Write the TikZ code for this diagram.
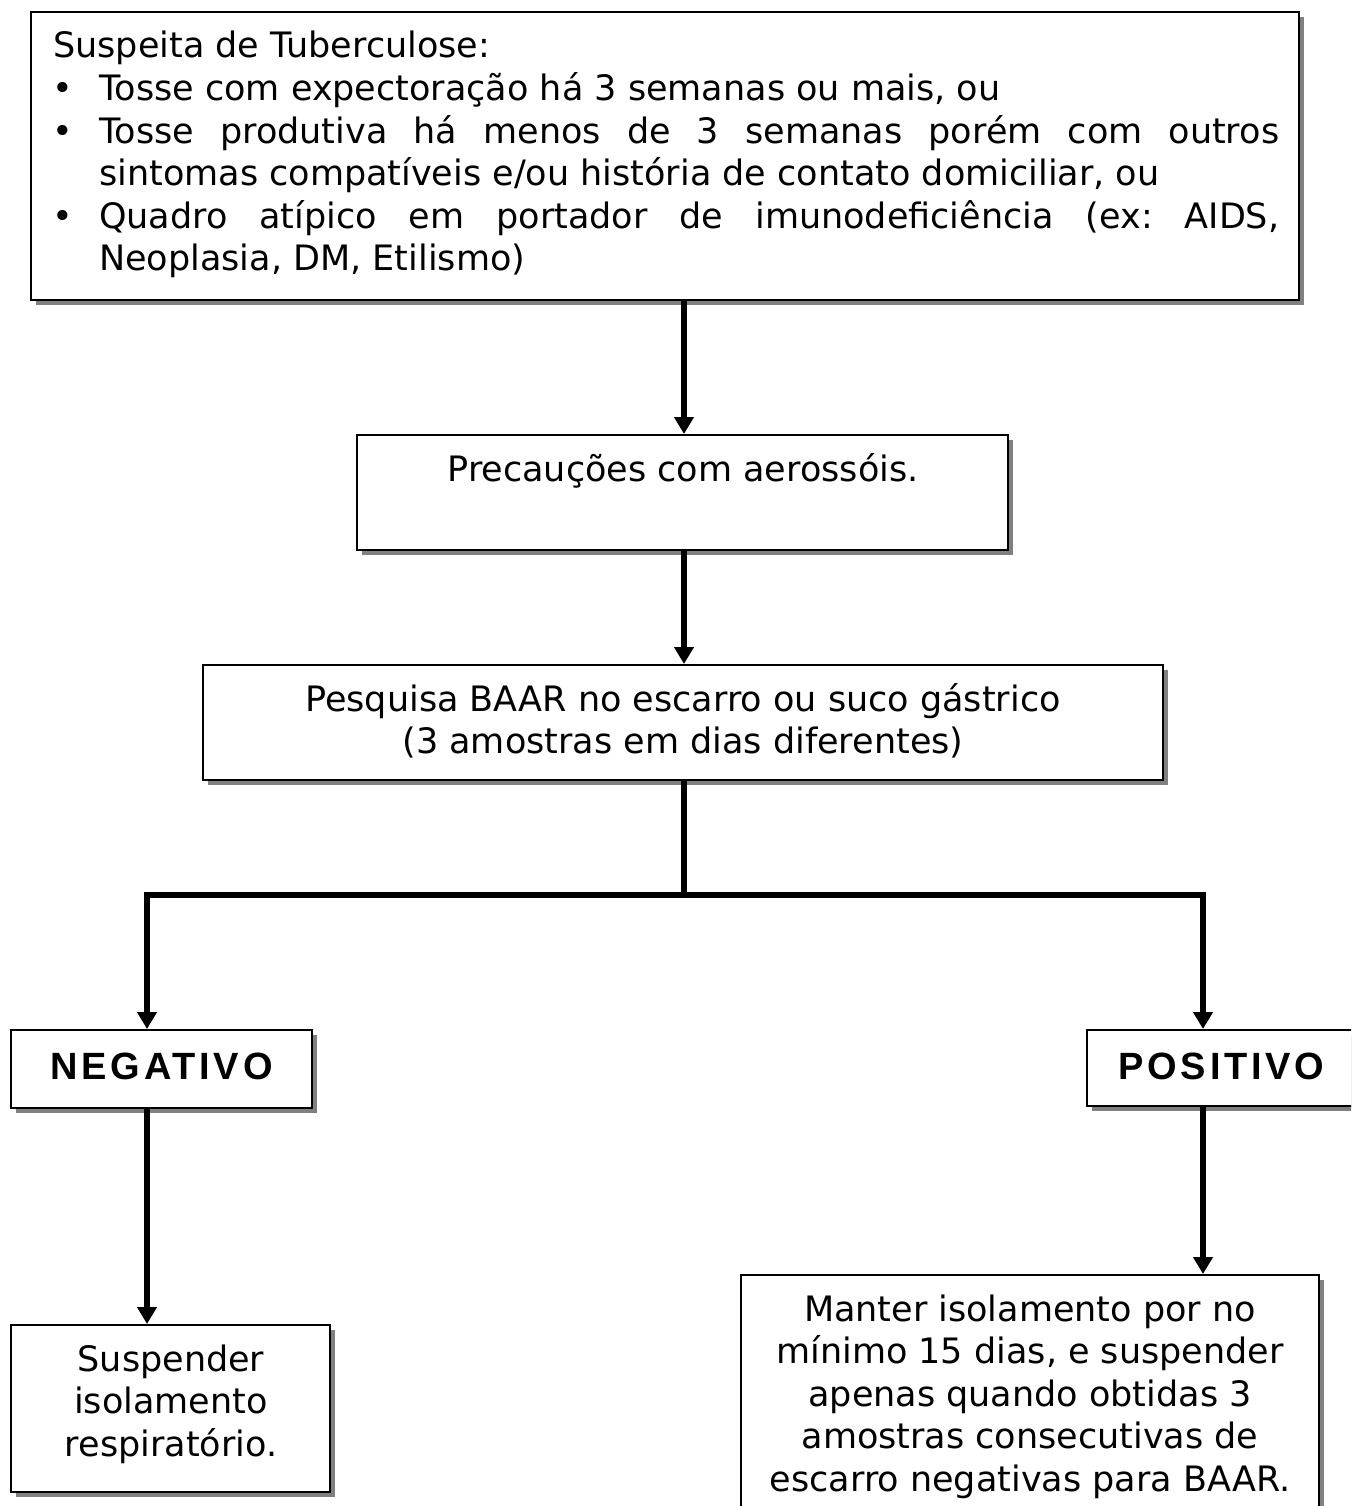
\documentclass[tikz,border=0pt]{standalone}
\usepackage{fontspec}
\setmainfont{DejaVu Sans}
\newfontfamily\headfont[LetterSpace=10]{Liberation Sans}
\usetikzlibrary{arrows.meta,shadows}
\newcommand\bodysize{\fontsize{35pt}{42.6pt}\selectfont}
\newcommand\cblock[2]{\begin{minipage}[t]{#1}\centering\bodysize #2\end{minipage}}
\frenchspacing
\begin{document}
\begin{tikzpicture}[x=1pt,y=-1pt,
  box/.style={draw=black, line width=2pt, fill=white, inner sep=0pt,
    drop shadow={shadow xshift=5pt, shadow yshift=-5pt, fill=black!50, opacity=1}},
  txt/.style={inner sep=0pt, anchor=base},
  head/.style={inner sep=0pt, anchor=base, font=\fontsize{38pt}{42pt}\headfont\bfseries},
  arr/.style={line width=6pt, -{Triangle[width=19pt,length=17pt]}},
  link/.style={line width=6pt}]
\useasboundingbox (0,0) rectangle (1351,1506);
\clip (0,0) rectangle (1351,1506);

% boxes
\node[box, minimum width=1268pt, minimum height=288pt] (b1) at (665,156) {};
\node[box, minimum width=651pt, minimum height=115pt] (b2) at (682.5,492.5) {};
\node[box, minimum width=960pt, minimum height=115pt] (b3) at (683,722.5) {};
\node[box, minimum width=301pt, minimum height=78pt] (neg) at (161.5,1069) {};
\node[box, minimum width=293pt, minimum height=76pt] (pos) at (1233.5,1068) {};
\node[box, minimum width=319pt, minimum height=167pt] (sus) at (170.5,1408.5) {};
\node[box, minimum width=578pt, minimum height=260pt] (man) at (1030,1405) {};

% texts
\node[inner sep=0pt, anchor=base west] (t1) at (53,58) {\begin{minipage}[t]{1240pt}\bodysize\parindent0pt
Suspeita de Tuberculose:\\
\makebox[46pt][l]{\hspace{-1pt}•}Tosse com expectoração há 3 semanas ou mais, ou\\
\makebox[46pt][l]{\hspace{-1pt}•}\makebox[1180pt][s]{Tosse produtiva há menos de 3 semanas porém com outros}\\
\hspace*{46pt}sintomas compatíveis e/ou história de contato domiciliar, ou\\
\makebox[46pt][l]{\hspace{-1pt}•}\makebox[1180pt][s]{Quadro atípico em portador de imunodeficiência (ex: AIDS,}\\
\hspace*{46pt}Neoplasia, DM, Etilismo)
\end{minipage}};
\node[txt] (t2) at (683,481) {\cblock{640pt}{Precauções com aerossóis.}};
\node[txt] (t3) at (683,711) {\cblock{950pt}{Pesquisa BAAR no escarro ou suco gástrico\\(3 amostras em dias diferentes)}};
\node[head] (tneg) at (161.5,1079) {NEGATIVO};
\node[head] (tpos) at (1221.5,1079) {POSITIVO};
\node[txt] (tsus) at (171,1371) {\cblock{310pt}{Suspender\\isolamento\\respiratório.}};
\node[txt] (tman) at (1030,1321) {\cblock{570pt}{Manter isolamento por no\\mínimo 15 dias, e suspender\\apenas quando obtidas 3\\amostras consecutivas de\\escarro negativas para BAAR.}};

% connectors
\coordinate (jc) at (684,895);
\coordinate (jl) at (147,895);
\coordinate (jr) at (1203,895);
\draw[arr] (jc |- b1.south) -- (jc |- b2.north);
\draw[arr] (jc |- b2.south) -- (jc |- b3.north);
\draw[link] (jc |- b3.south) -- (jc);
\draw[arr] (jc) -- (jl) -- (jl |- neg.north);
\draw[arr] (jc) -- (jr) -- (jr |- pos.north);
\draw[arr] (jl |- neg.south) -- (jl |- sus.north);
\draw[arr] (jr |- pos.south) -- (jr |- man.north);
\end{tikzpicture}
\end{document}
